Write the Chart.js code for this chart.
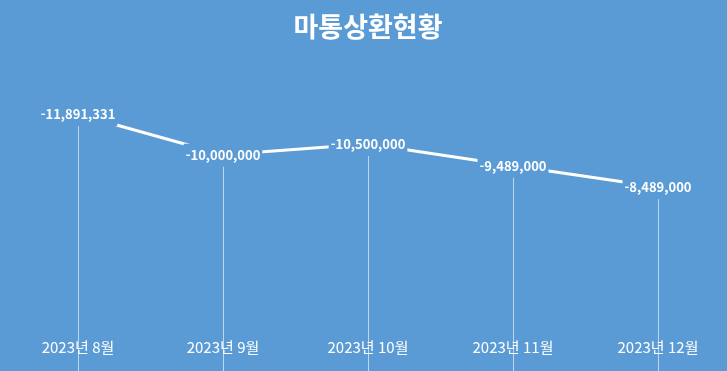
<!DOCTYPE html>
<html lang="ko">
<head>
<meta charset="utf-8">
<title>마통상환현황</title>
<script src="https://cdn.jsdelivr.net/npm/chart.js@4"></script>
<style>
    html, body { margin: 0; padding: 0; background: #5B9BD5; }
    #wrap { width: 727px; height: 371px; position: relative; }
</style>
</head>
<body>
<div id="wrap"><canvas id="repay_chart"></canvas></div>
<script>
"use strict";

// Chart data
var categories = ['2023년 8월', '2023년 9월', '2023년 10월', '2023년 11월', '2023년 12월'];
var repayValues = [-11891331, -10000000, -10500000, -9489000, -8489000];
var chartTitle = '마통상환현황';

var BG_COLOR = '#5B9BD5';
var FONT_FAMILY = "'Noto Sans CJK KR', 'Noto Sans', sans-serif";

// Background, title, drop lines and category labels
var decorPlugin = {
    id: 'decor',
    beforeDraw: function (chart) {
        var ctx = chart.ctx;
        ctx.save();
        ctx.fillStyle = BG_COLOR;
        ctx.fillRect(0, 0, chart.width, chart.height);

        ctx.fillStyle = '#FFFFFF';
        ctx.font = "bold 27px " + FONT_FAMILY;
        ctx.textAlign = 'center';
        ctx.textBaseline = 'middle';
        ctx.fillText(chartTitle, 368, 27);
        ctx.restore();
    },
    beforeDatasetsDraw: function (chart) {
        var ctx = chart.ctx;
        var meta = chart.getDatasetMeta(0);
        ctx.save();
        ctx.strokeStyle = 'rgba(255,255,255,0.6)';
        ctx.lineWidth = 1;
        meta.data.forEach(function (pt) {
            var x = Math.round(pt.x) + 0.5;
            ctx.beginPath();
            ctx.moveTo(x, pt.y);
            ctx.lineTo(x, chart.height);
            ctx.stroke();
        });

        ctx.fillStyle = '#FFFFFF';
        ctx.font = "15px " + FONT_FAMILY;
        ctx.textAlign = 'center';
        ctx.textBaseline = 'middle';
        categories.forEach(function (label, i) {
            var x = chart.scales.x.getPixelForValue(i);
            ctx.fillText(label, x, 347);
        });
        ctx.restore();
    },
    afterDatasetsDraw: function (chart) {
        var ctx = chart.ctx;
        var meta = chart.getDatasetMeta(0);
        ctx.save();
        ctx.font = "bold 13px " + FONT_FAMILY;
        ctx.textAlign = 'center';
        ctx.textBaseline = 'middle';
        meta.data.forEach(function (pt, i) {
            var text = repayValues[i].toLocaleString('en-US');
            var w = ctx.measureText(text).width + 4;
            ctx.fillStyle = BG_COLOR;
            ctx.fillRect(pt.x - w / 2, pt.y - 11, w, 23);
            ctx.fillStyle = '#FFFFFF';
            ctx.fillText(text, pt.x, pt.y);
        });
        ctx.restore();
    }
};

var RepayChart = function () {
    var initRepayChart = function () {
        var element = document.getElementById('repay_chart');

        var config = {
            type: 'line',
            data: {
                labels: categories,
                datasets: [{
                    label: chartTitle,
                    data: repayValues,
                    borderColor: '#FFFFFF',
                    borderWidth: 3,
                    pointRadius: 0,
                    tension: 0,
                    fill: false
                }]
            },
            options: {
                responsive: true,
                maintainAspectRatio: false,
                animation: false,
                layout: {
                    padding: { top: 69, bottom: 2, left: 78, right: 69 }
                },
                scales: {
                    x: {
                        display: false,
                        offset: false
                    },
                    y: {
                        display: false,
                        reverse: true,
                        min: -14000000,
                        max: 0
                    }
                },
                plugins: {
                    legend: { display: false },
                    tooltip: { enabled: false }
                }
            },
            plugins: [decorPlugin]
        };

        new Chart(element.getContext('2d'), config);
    };

    return {
        init: function () {
            initRepayChart();
        }
    };
}();

document.addEventListener('DOMContentLoaded', function () {
    RepayChart.init();
});
</script>
</body>
</html>
